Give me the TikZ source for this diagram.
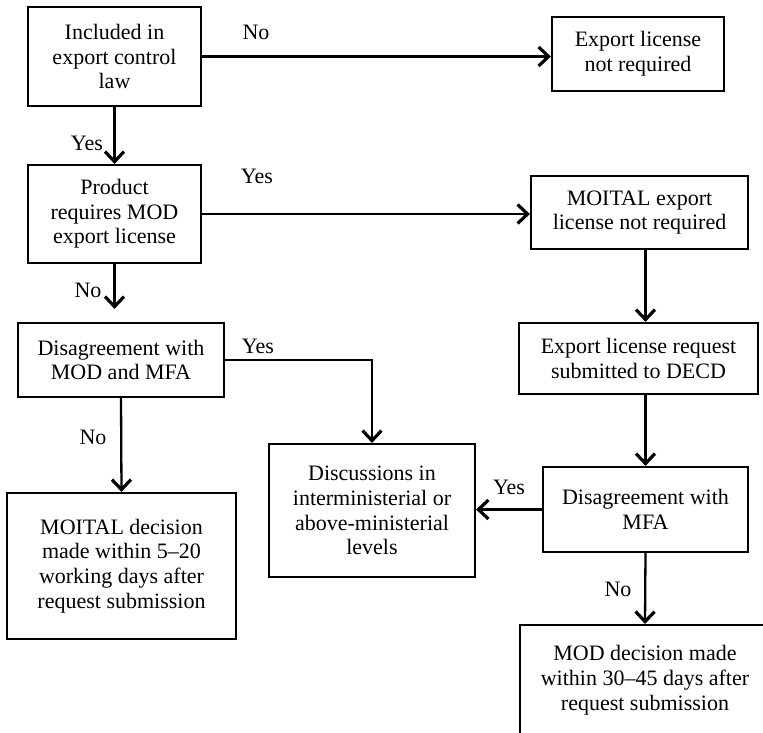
\documentclass[tikz,border=0pt]{standalone}
\usepackage{fontspec}
\setmainfont{Liberation Serif}
\usetikzlibrary{arrows.meta}
\begin{document}
\begin{tikzpicture}[x=1pt,y=-1pt,
  box/.style={draw,line width=2.2pt,align=center,inner sep=0pt,font=\fontsize{22}{24.7}\selectfont},
  lbl/.style={font=\fontsize{22}{24}\selectfont,inner sep=0pt},
  arr/.style={line width=2.3pt,-{Straight Barb[length=10pt,width=19pt,line width=3.2pt]}}]
\clip (0,0) rectangle (763,732);
\useasboundingbox (0,0) rectangle (763,732);
\node[box,minimum width=173pt,minimum height=99pt] (b1) at (114.5,56.5) {Included in\\export control\\law};
\node[box,minimum width=172pt,minimum height=74pt] (ex) at (638,54) {Export license\\not required};
\node[box,minimum width=173pt,minimum height=98pt] (b2) at (114.5,214) {Product\\requires MOD\\export license};
\node[box,minimum width=217pt,minimum height=73pt] (mx) at (639.5,212.5) {MOITAL export\\license not required};
\node[box,minimum width=206pt,minimum height=74pt] (b3) at (121,360) {Disagreement with\\MOD and MFA};
\node[box,minimum width=239pt,minimum height=71pt] (decd) at (638.5,358.5) {Export license request\\submitted to DECD};
\node[box,minimum width=206pt,minimum height=133pt] (disc) at (372,510.5) {Discussions in\\interministerial or\\above-ministerial\\levels};
\node[box,minimum width=205pt,minimum height=85pt] (mfa) at (645.5,509.5) {Disagreement with\\MFA};
\node[box,minimum width=229pt,minimum height=146pt] (b5) at (121.5,566) {MOITAL decision\\made within 5--20\\working days after\\request submission};
\node[box,minimum width=250pt,minimum height=110pt] (mod) at (645,680) {MOD decision made\\within 30--45 days after\\request submission};

\draw[arr] (b1.east) -- (b1.east -| ex.west);
\draw[arr] (b1.south) -- (b2.north);
\draw[arr] (b2.east) -- (b2.east -| mx.west);
\draw[arr,shorten >=13pt] (b2.south) -- (b2.south |- b3.north);
\draw[arr] (b3.south) -- (b5.north);
\draw[arr] (b3.east) -| (disc.north);
\draw[arr] (mfa.north |- mx.south) -- (mfa.north |- decd.north);
\draw[arr] (mfa.north |- decd.south) -- (mfa.north);
\draw[arr] (mfa.west) -- (mfa.west -| disc.east);
\draw[arr] (mfa.south) -- (mod.north);

\node[lbl] (l1) at (256,32) {No};
\node[lbl] (l2) at (87,143) {Yes};
\node[lbl] (l3) at (257,176) {Yes};
\node[lbl] (l4) at (88,290) {No};
\node[lbl] (l5) at (258,346) {Yes};
\node[lbl] (l6) at (93,437) {No};
\node[lbl] (l7) at (509,487) {Yes};
\node[lbl] (l8) at (618,589) {No};
\end{tikzpicture}
\end{document}
